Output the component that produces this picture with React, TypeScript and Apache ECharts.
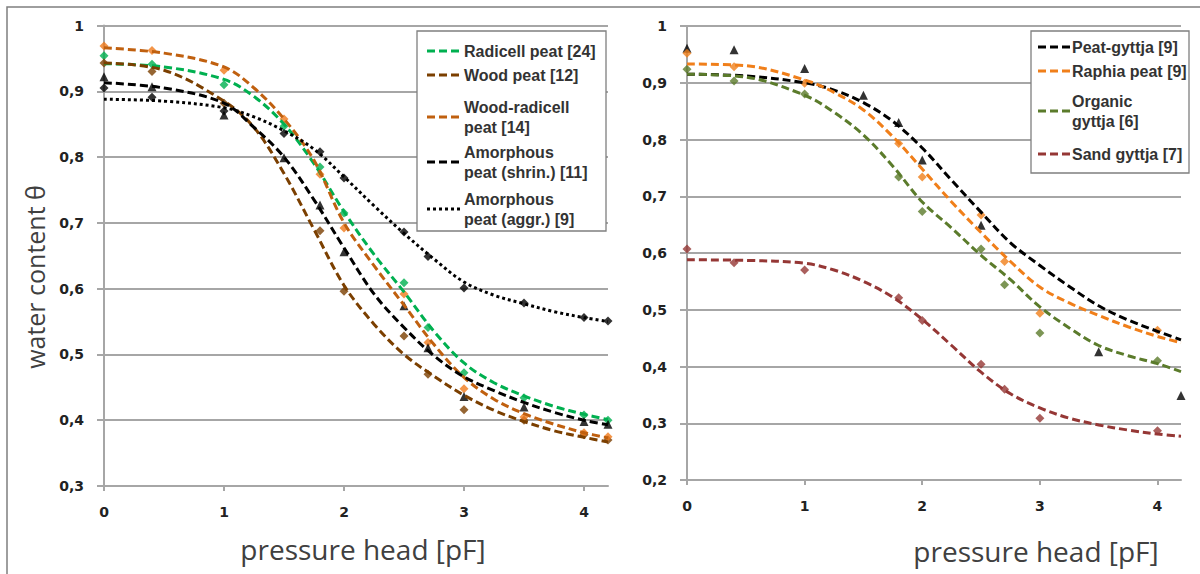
import React, { useEffect, useRef } from "react";
import * as echarts from "echarts";

// ---------- data ----------
const fitX = [0, 0.5, 1, 1.25, 1.5, 1.75, 2, 2.25, 2.5, 2.75, 3, 3.25, 3.5, 3.75, 4, 4.2];
const xTickValues = [0, 1, 2, 3, 4];

// left panel fitted curves
const radicellFit = [0.942, 0.937, 0.918, 0.892, 0.85, 0.79, 0.717, 0.652, 0.595, 0.535, 0.487, 0.457, 0.437, 0.421, 0.409, 0.401];
const woodFit = [0.943, 0.932, 0.885, 0.845, 0.775, 0.69, 0.605, 0.546, 0.5, 0.467, 0.438, 0.415, 0.398, 0.384, 0.374, 0.367];
const woodRadicellFit = [0.966, 0.958, 0.937, 0.905, 0.858, 0.795, 0.7, 0.635, 0.575, 0.515, 0.465, 0.432, 0.41, 0.394, 0.381, 0.373];
const shrinFit = [0.913, 0.905, 0.882, 0.845, 0.8, 0.735, 0.662, 0.592, 0.541, 0.498, 0.466, 0.445, 0.427, 0.412, 0.4, 0.393];
const aggrFit = [0.888, 0.885, 0.875, 0.861, 0.84, 0.812, 0.77, 0.726, 0.684, 0.645, 0.61, 0.59, 0.577, 0.565, 0.556, 0.55];

// left panel measured points
const radicellPts = [[0, 0.954], [0.4, 0.941], [1, 0.91], [1.5, 0.847], [1.8, 0.785], [2, 0.715], [2.5, 0.609], [2.7, 0.541], [3, 0.472], [3.5, 0.434], [4, 0.408], [4.2, 0.4]];
const woodPts = [[0, 0.943], [0.4, 0.93], [1, 0.882], [1.8, 0.688], [2, 0.596], [2.5, 0.528], [2.7, 0.47], [3, 0.416], [3.5, 0.4], [4, 0.378], [4.2, 0.37]];
const woodRadicellPts = [[0, 0.969], [0.4, 0.962], [1, 0.932], [1.5, 0.858], [1.8, 0.774], [2, 0.692], [2.5, 0.592], [2.7, 0.518], [3, 0.448], [3.5, 0.405], [4, 0.381], [4.2, 0.375]];
const shrinPts = [[0, 0.922], [0.4, 0.907], [1, 0.864], [1.5, 0.799], [1.8, 0.727], [2, 0.656], [2.5, 0.574], [2.7, 0.51], [3, 0.436], [3.5, 0.42], [4, 0.398], [4.2, 0.394]];
const aggrPts = [[0, 0.905], [0.4, 0.891], [1, 0.87], [1.5, 0.836], [1.8, 0.808], [2, 0.768], [2.5, 0.686], [2.7, 0.649], [3, 0.601], [3.5, 0.578], [4, 0.556], [4.2, 0.551]];

// right panel fitted curves
const peatGyttjaFit = [0.915, 0.912, 0.9, 0.887, 0.865, 0.832, 0.785, 0.728, 0.672, 0.618, 0.578, 0.541, 0.507, 0.482, 0.462, 0.447];
const raphiaFit = [0.933, 0.93, 0.905, 0.883, 0.852, 0.805, 0.748, 0.69, 0.636, 0.585, 0.54, 0.512, 0.49, 0.47, 0.453, 0.442];
const organicFit = [0.915, 0.91, 0.878, 0.848, 0.808, 0.753, 0.69, 0.644, 0.596, 0.553, 0.505, 0.468, 0.437, 0.419, 0.405, 0.391];
const sandFit = [0.588, 0.587, 0.582, 0.57, 0.55, 0.522, 0.483, 0.437, 0.39, 0.352, 0.327, 0.309, 0.297, 0.288, 0.281, 0.277];

// right panel measured points
const peatGyttjaPts = [[0, 0.961], [0.4, 0.958], [1, 0.925], [1.5, 0.878], [1.8, 0.83], [2, 0.764], [2.5, 0.649], [3.5, 0.426], [4.2, 0.349]];
const raphiaPts = [[0, 0.952], [0.4, 0.928], [1, 0.899], [1.8, 0.793], [2, 0.734], [2.5, 0.667], [2.7, 0.585], [3, 0.494], [4, 0.464]];
const organicPts = [[0, 0.924], [0.4, 0.903], [1, 0.88], [1.8, 0.734], [2, 0.673], [2.5, 0.607], [2.7, 0.544], [3, 0.459], [4, 0.41]];
const sandPts = [[0, 0.607], [0.4, 0.583], [1, 0.57], [1.8, 0.521], [2, 0.481], [2.5, 0.404], [2.7, 0.36], [3, 0.309], [4, 0.287]];

const leftNames = ["Radicell peat [24]", "Wood peat [12]", "Wood-radicell\npeat [14]", "Amorphous\npeat (shrin.) [11]", "Amorphous\npeat (aggr.) [9]"];
const rightNames = ["Peat-gyttja [9]", "Raphia peat [9]", "Organic\ngyttja [6]", "Sand gyttja [7]"];
const yAxisTitle = "water content θ";
const xAxisTitle = "pressure head [pF]";

// ---------- styles ----------
const DASH = [8, 4];
const DOT = [3, 3];
const GRID_COLOR = "#A6A6A6";
const leftCurveColors = ["#00B050", "#7B3F00", "#C0600F", "#000000", "#000000"];
const leftMarkerColors = ["#00B050", "#7B3F00", "#F07A1C", "#000000", "#000000"];
const leftDash = [DASH, DASH, DASH, DASH, DOT];
const leftSymbols = ["diamond", "diamond", "diamond", "triangle", "diamond"];
const rightCurveColors = ["#000000", "#F07F1A", "#5B7B2B", "#953735"];
const rightMarkerColors = ["#000000", "#F07F1A", "#5B7B2B", "#953735"];
const rightSymbols = ["triangle", "diamond", "diamond", "diamond"];

const leftFits = [radicellFit, woodFit, woodRadicellFit, shrinFit, aggrFit];
const leftPts = [radicellPts, woodPts, woodRadicellPts, shrinPts, aggrPts];
const rightFits = [peatGyttjaFit, raphiaFit, organicFit, sandFit];
const rightPts = [peatGyttjaPts, raphiaPts, organicPts, sandPts];

const fmtY = (v: number) => (Math.abs(v - 1) < 1e-9 ? "1" : (Math.round(v * 10) / 10).toFixed(1).replace(".", ","));

function fitSeries(name: string, idx: number, values: number[], color: string, dash: number[]) {
  return {
    type: "line",
    name,
    xAxisIndex: idx,
    yAxisIndex: idx,
    data: fitX.map((x, i) => [x, values[i]]),
    smooth: 0.35,
    symbol: "none",
    silent: true,
    lineStyle: { color, width: 3, type: dash },
    z: 3,
  };
}

function pointSeries(name: string, idx: number, pts: number[][], color: string, symbol: string) {
  return {
    type: "scatter",
    name: name + " (measured)",
    xAxisIndex: idx,
    yAxisIndex: idx,
    data: pts,
    symbol,
    symbolSize: symbol === "triangle" ? 9 : 9,
    silent: true,
    itemStyle: { color },
    z: 2,
  };
}

function xAxisCfg(idx: number) {
  return {
    type: "value",
    gridIndex: idx,
    min: 0,
    max: 4.2,
    interval: 1,
    axisLine: { show: true, lineStyle: { color: GRID_COLOR, width: 2 } },
    axisTick: { show: true, length: 5, customValues: xTickValues, lineStyle: { color: GRID_COLOR, width: 2 } },
    axisLabel: {
      customValues: xTickValues,
      margin: 19,
      fontFamily: "DejaVu Sans",
      fontWeight: "bold",
      fontSize: 14,
      color: "#222",
    },
    splitLine: { show: false },
  };
}

function yAxisCfg(idx: number, min: number) {
  return {
    type: "value",
    gridIndex: idx,
    min,
    max: 1,
    interval: 0.1,
    axisLine: { show: true, onZero: false, lineStyle: { color: GRID_COLOR, width: 2 } },
    axisTick: { show: true, length: 7, lineStyle: { color: GRID_COLOR, width: 2 } },
    axisLabel: {
      formatter: fmtY,
      margin: 20,
      fontFamily: "DejaVu Sans",
      fontWeight: "bold",
      fontSize: 14,
      color: "#222",
    },
    splitLine: { show: true, lineStyle: { color: GRID_COLOR, width: 2 } },
  };
}

function legendGraphics(names: string[], colors: string[], dashes: number[][], box: number[], iconX: number[], textX: number, centers: number[]) {
  const els: any[] = [
    {
      type: "rect",
      shape: { x: box[0], y: box[1], width: box[2], height: box[3] },
      style: { fill: "#ffffff", stroke: "#7F7F7F", lineWidth: 1.3 },
      z: 10,
      silent: true,
    },
  ];
  names.forEach((n, i) => {
    els.push({
      type: "line",
      shape: { x1: iconX[0], y1: centers[i], x2: iconX[1], y2: centers[i] },
      style: { stroke: colors[i], lineWidth: 3, lineDash: dashes[i] },
      z: 11,
      silent: true,
    });
    els.push({
      type: "text",
      x: textX,
      y: centers[i],
      style: {
        text: n,
        fontFamily: "Liberation Sans",
        fontWeight: "bold",
        fontSize: 16,
        lineHeight: 20,
        fill: "#333333",
        align: "left",
        verticalAlign: "middle",
      },
      z: 11,
      silent: true,
    });
  });
  return els;
}

export default function App() {
  const ref = useRef<HTMLDivElement>(null);
  useEffect(() => {
    if (!ref.current) return;
    const chart = echarts.init(ref.current, undefined, { renderer: "svg" });
    const series: any[] = [];
    leftNames.forEach((n, i) => {
      series.push(pointSeries(n, 0, leftPts[i], leftMarkerColors[i], leftSymbols[i]));
      series.push(fitSeries(n, 0, leftFits[i], leftCurveColors[i], leftDash[i]));
    });
    rightNames.forEach((n, i) => {
      series.push(pointSeries(n, 1, rightPts[i], rightMarkerColors[i], rightSymbols[i]));
      series.push(fitSeries(n, 1, rightFits[i], rightCurveColors[i], DASH));
    });

    const titleStyle = { fontFamily: "Open Sans", fontSize: 28, fill: "#404040", align: "center", verticalAlign: "middle" };

    const graphic: any[] = [
      {
        type: "rect",
        shape: { x: 7, y: 7, width: 1300, height: 700 },
        style: { fill: "none", stroke: "#7F7F7F", lineWidth: 1.5 },
        silent: true,
        z: 0,
      },
      {
        type: "text",
        x: 35,
        y: 277,
        rotation: Math.PI / 2,
        style: { ...titleStyle, text: yAxisTitle, fontSize: 25 },
        silent: true,
      },
      { type: "text", x: 363, y: 549, style: { ...titleStyle, text: xAxisTitle }, silent: true },
      { type: "text", x: 1036, y: 551, style: { ...titleStyle, text: xAxisTitle }, silent: true },
      ...legendGraphics(leftNames, leftCurveColors, leftDash, [417, 31, 189, 200], [427, 462], 464, [51, 75, 117, 162, 209]),
      ...legendGraphics(rightNames, rightCurveColors, [DASH, DASH, DASH, DASH], [1031, 31, 158, 142], [1038, 1071], 1072, [47, 71, 111, 154]),
    ];

    chart.setOption({
      animation: false,
      backgroundColor: "#ffffff",
      grid: [
        { left: 104, width: 504, top: 25.5, height: 460.5, containLabel: false },
        { left: 687, width: 494, top: 26, height: 454, containLabel: false },
      ],
      xAxis: [xAxisCfg(0), xAxisCfg(1)],
      yAxis: [yAxisCfg(0, 0.3), yAxisCfg(1, 0.2)],
      series,
      graphic,
    });
    return () => chart.dispose();
  }, []);
  return <div ref={ref} style={{ position: "absolute", left: 0, top: 0, width: 1200, height: 574 }} />;
}
